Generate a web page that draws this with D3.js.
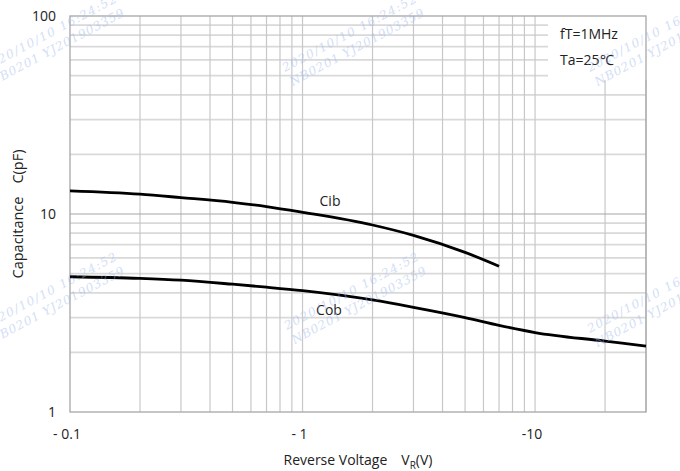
<!DOCTYPE html>
<html>
<head>
<meta charset="utf-8">
<script src="https://cdn.jsdelivr.net/npm/d3@7"></script>
<style>
  body { margin: 0; background: #fff; }
  svg text { font-family: "Open Sans", "Liberation Sans", sans-serif; fill: #222; }
</style>
</head>
<body>
<svg id="chart" width="680" height="471"></svg>
<script>
// values
const vIb = [0.1, 0.2, 0.3, 0.5, 0.7, 1, 2, 3, 5, 7];
const cIb = [13.1, 12.6, 12.1, 11.45, 10.9, 10.2, 8.8, 7.8, 6.4, 5.45];
const vOb = [0.1, 0.2, 0.3, 0.5, 0.7, 1, 2, 3, 5, 7, 10, 20, 30];
const cOb = [4.82, 4.73, 4.63, 4.42, 4.27, 4.1, 3.68, 3.38, 3.0, 2.74, 2.52, 2.28, 2.15];

const xTicks = [0.1, 1, 10];
const xTickLabels = ["- 0.1", "- 1", "-10"];
const yTicks = [1, 10, 100];
const yTickLabels = ["1", "10", "100"];
const notes = ["fT=1MHz", "Ta=25\u2103"];
const stamp = ["2020/10/10  16:24:52", "NB0201 YJ201903359"];

const margin = { left: 70, right: 34, top: 16, bottom: 59 };
const width = 680, height = 471;

const svg = d3.select("#chart");

const x = d3.scaleLog().domain([0.1, 30]).range([margin.left, width - margin.right]);
const y = d3.scaleLog().domain([1, 100]).range([height - margin.bottom, margin.top]);

// minor values 1..9 per decade
const minorX = [];
for (const d of [0.1, 1, 10]) for (let k = 1; k <= 9; k++) if (d * k <= 30) minorX.push(d * k);
const minorY = [];
for (const d of [1, 10]) for (let k = 2; k <= 9; k++) minorY.push(d * k);

const grid = svg.append("g");

// legend box (white patch in top-right)
const box = { x0: 548, y1: 80 };

grid.selectAll("line.hy")
  .data(minorY)
  .enter()
  .append("line")
  .attr("x1", x(0.1))
  .attr("x2", d => (y(d) < box.y1 ? box.x0 : x(30)))
  .attr("y1", d => y(d))
  .attr("y2", d => y(d))
  .style("stroke", "#d9d9d9")
  .style("stroke-width", 1.8);

grid.selectAll("line.vx")
  .data(minorX.filter(d => d > 0.1))
  .enter()
  .append("line")
  .attr("x1", d => x(d))
  .attr("x2", d => x(d))
  .attr("y1", d => (x(d) > box.x0 ? box.y1 : y(100)))
  .attr("y2", y(1))
  .style("stroke", "#c8c8c8")
  .style("stroke-width", 1.2);

// major horizontal line at 10
grid.append("line")
  .attr("x1", x(0.1)).attr("x2", x(30))
  .attr("y1", y(10)).attr("y2", y(10))
  .style("stroke", "#a6a6a6")
  .style("stroke-width", 1.2);

// plot frame
svg.append("rect")
  .attr("x", x(0.1))
  .attr("y", y(100))
  .attr("width", x(30) - x(0.1))
  .attr("height", y(1) - y(100))
  .style("fill", "none")
  .style("stroke", "#a6a6a6")
  .style("stroke-width", 1.3);

// tick labels
svg.selectAll("text.xt")
  .data(xTicks)
  .enter()
  .append("text")
  .attr("x", d => x(d) - 3)
  .attr("y", y(1) + 27)
  .attr("text-anchor", "middle")
  .style("font-size", "14px")
  .text((d, i) => xTickLabels[i]);

svg.selectAll("text.yt")
  .data(yTicks)
  .enter()
  .append("text")
  .attr("x", x(0.1) - 14)
  .attr("y", d => y(d) + 5)
  .attr("text-anchor", "end")
  .style("font-size", "14px")
  .text((d, i) => yTickLabels[i]);

// axis titles
const xt = svg.append("text")
  .attr("x", (x(0.1) + x(30)) / 2)
  .attr("y", 465)
  .attr("text-anchor", "middle")
  .style("font-size", "14px");
xt.append("tspan").text("Reverse Voltage");
xt.append("tspan").attr("dx", 14).text("V");
xt.append("tspan").attr("dy", 4).style("font-size", "10px").text("R");
xt.append("tspan").attr("dy", -4).text("(V)");

const yt = svg.append("text")
  .attr("transform", "translate(23," + (y(1) + y(100)) / 2 + ") rotate(-90)")
  .attr("text-anchor", "middle")
  .style("font-size", "14.5px");
yt.append("tspan").text("Capacitance");
yt.append("tspan").attr("dx", 13).text("C(pF)");

// notes box
svg.append("rect")
  .attr("x", box.x0)
  .attr("y", y(100) + 1)
  .attr("width", x(30) - box.x0 - 1)
  .attr("height", box.y1 - y(100) - 1)
  .style("fill", "#fff");

svg.selectAll("text.note")
  .data(notes)
  .enter()
  .append("text")
  .attr("x", 560)
  .attr("y", (d, i) => 39 + i * 26)
  .style("font-size", "14px")
  .text(d => d);

// curves
const line = d3.line()
  .x(d => x(d[0]))
  .y(d => y(d[1]))
  .curve(d3.curveMonotoneX);

svg.append("path")
  .attr("d", line(vIb.map((v, i) => [v, cIb[i]])))
  .style("fill", "none")
  .style("stroke", "#000")
  .style("stroke-width", 2.8);

svg.append("path")
  .attr("d", line(vOb.map((v, i) => [v, cOb[i]])))
  .style("fill", "none")
  .style("stroke", "#000")
  .style("stroke-width", 2.8);

svg.append("text")
  .attr("x", 330).attr("y", 206)
  .attr("text-anchor", "middle")
  .style("font-size", "14px")
  .text("Cib");

svg.append("text")
  .attr("x", 329).attr("y", 315)
  .attr("text-anchor", "middle")
  .style("font-size", "14px")
  .text("Cob");

// faint scan watermark stamps
const stampAt = [[-15, 72], [285, 72], [590, 72], [-15, 330], [287, 330], [590, 333]];
const wm = svg.append("g").style("pointer-events", "none");
stampAt.forEach(function (p) {
  const g = wm.append("g")
    .attr("transform", "translate(" + p[0] + "," + p[1] + ") rotate(-28)");
  stamp.forEach(function (s, i) {
    g.append("text")
      .attr("x", 0)
      .attr("y", i * 16)
      .attr("textLength", 150)
      .style("font-family", "'DejaVu Serif', serif")
      .style("font-size", "12px")
      .style("font-style", "italic")
      .style("fill", "#9db8ee")
      .style("opacity", 0.45)
      .text(s);
  });
});
</script>
</body>
</html>
